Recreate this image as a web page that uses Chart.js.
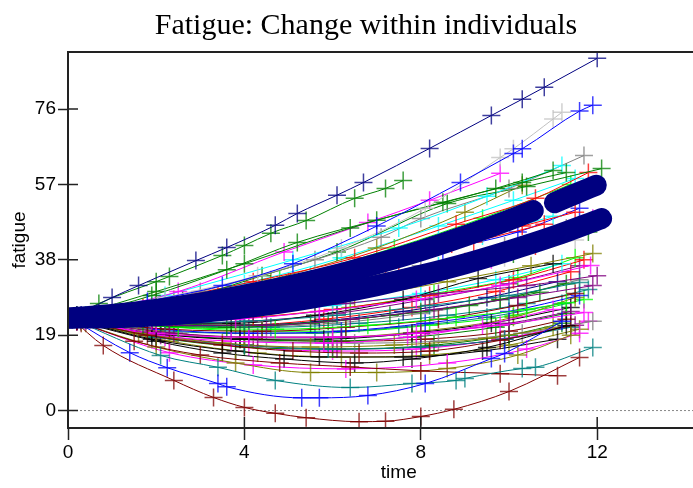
<!DOCTYPE html>
<html lang="en">
<head>
  <meta charset="UTF-8" />
  <title>Fatigue: Change within individuals</title>
  <style>
    html, body { margin: 0; padding: 0; background: #fff; overflow: hidden; }
    canvas { display: block; }
  </style>
</head>
<body>
  <canvas id="fatigueChart" width="740" height="488"></canvas>

  <script src="https://cdn.jsdelivr.net/npm/chart.js"></script>
  <script>
    // axis ticks
    const xTicks = [0, 4, 8, 12];
    const yTicks = [0, 19, 38, 57, 76];

    // one row per individual: observation times and fatigue scores
    const subjTime = [
      [0.2, 1.0, 1.6, 2.9, 3.6, 4.7, 5.2, 6.1, 6.7, 8.2, 9.6, 10.3, 10.8, 12.0],
      [0.2, 0.7, 2.0, 2.3, 3.5, 4.0, 4.6, 5.4, 6.5, 7.2, 7.6],
      [0.3, 1.8, 3.5, 5.1, 7.0, 8.9, 10.1, 10.3, 11.6, 11.9],
      [0.3, 2.2, 4.3, 6.2, 8.1, 9.8, 10.1, 11.0, 11.2],
      [0.1, 0.8, 2.4, 3.3, 4.0, 4.7, 5.4, 6.6, 7.2, 8.0, 8.75, 10.0, 11.6],
      [0.1, 1.4, 2.25, 3.4, 3.6, 5.3, 5.7, 6.8, 8.1, 9.6, 9.9, 11.2],
      [0.1, 2.1, 3.4, 4.7, 6.4, 7.8, 8.8, 9.0, 10.3, 10.6, 11.9],
      [0.2, 1.5, 3.0, 4.8, 6.4, 8.0, 9.8, 11.1],
      [0.3, 2.0, 3.8, 5.5, 7.0, 8.6, 10.2, 11.4],
      [0.3, 2.3, 4.2, 6.3, 8.6, 10.4, 11.6],
      [0.2, 2.0, 3.5, 4.9, 6.5, 7.8, 9.5, 11.3],
      [0.3, 1.8, 3.5, 5.1, 6.6, 8.2, 9.8, 11.4],
      [0.2, 2.0, 4.0, 6.4, 8.5, 10.3, 11.3],
      [0.3, 1.9, 3.6, 5.2, 7.0, 9.7, 11.0],
      [0.2, 2.5, 4.9, 6.8, 8.2, 9.8],
      [0.4, 2.2, 5.1, 7.5, 9.5, 11.2],
      [0.3, 3.0, 5.6, 7.1, 8.0, 10.0, 11.7],
      [0.5, 2.6, 4.4, 6.1, 8.6, 10.4, 12.1],
      [0.3, 2.0, 4.2, 6.5, 8.8, 10.6, 11.8],
      [0.4, 2.4, 4.6, 7.0, 9.0, 10.3],
      [0.2, 1.8, 4.0, 6.2, 8.4, 10.1, 11.5],
      [0.3, 2.2, 4.8, 7.4, 9.4, 11.4],
      [0.3, 1.7, 3.4, 5.0, 6.9, 8.7, 10.3, 11.5],
      [0.2, 2.1, 4.0, 5.8, 7.5, 9.2, 10.8],
      [0.4, 1.9, 3.7, 5.5, 7.6, 9.4, 11.0],
      [0.3, 2.6, 4.5, 6.6, 8.5, 10.2, 11.6],
      [0.2, 2.3, 4.1, 6.0, 8.0, 9.9, 11.3],
      [0.5, 2.2, 4.3, 6.2, 8.3, 10.1, 11.8],
      [0.3, 1.8, 3.9, 5.9, 7.7, 9.6, 11.9],
      [0.2, 2.0, 4.2, 6.3, 8.4, 10.4, 12.0],
      [0.4, 2.4, 4.4, 6.5, 8.6, 10.5, 11.9],
      [0.2, 1.9, 3.8, 5.7, 7.9, 9.8, 11.85],
      [0.3, 2.2, 4.0, 6.1, 8.2, 10.0, 11.6],
      [0.4, 2.3, 4.5, 6.4, 8.3, 10.2, 11.9],
      [0.2, 1.7, 3.6, 5.5, 7.3, 9.1, 10.7],
      [0.3, 2.5, 4.7, 6.8, 8.8, 10.4, 11.3],
      [0.2, 2.0, 4.1, 6.0, 7.9, 9.8, 11.7],
      [0.3, 1.9, 3.7, 5.6, 7.6, 9.3, 11.0],
      [0.2, 2.4, 4.3, 6.2, 8.0, 10.0, 11.4],
      [0.3, 1.6, 3.5, 5.5, 7.4, 9.5, 11.0],
      [0.4, 2.2, 4.0, 6.0, 8.0, 9.7, 11.2],
      [0.3, 2.0, 3.9, 6.1, 8.1, 9.9, 11.5],
      [0.2, 2.2, 4.2, 6.0, 8.2, 10.1, 11.7],
      [0.3, 2.3, 4.4, 6.3, 8.4, 10.2, 11.5],
      [0.5, 2.1, 4.0, 5.9, 8.0, 9.8, 11.3],
      [0.3, 1.8, 3.9, 5.7, 7.6, 9.5, 11.1],
      [0.2, 2.4, 4.6, 6.6, 8.6, 10.4, 11.8],
      [0.4, 2.0, 3.7, 5.8, 7.7, 9.4, 11.0],
      [0.2, 1.9, 3.9, 5.8, 7.8, 9.6, 11.4],
      [0.3, 2.1, 4.1, 6.2, 8.1, 10.0, 11.6],
      [0.2, 2.0, 4.0, 6.0, 8.0, 10.1, 11.5],
      [0.4, 2.3, 4.2, 6.4, 8.3, 10.2, 11.5],
      [0.3, 1.8, 3.6, 5.4, 7.2, 9.0, 10.6],
      [0.2, 2.1, 4.3, 6.3, 8.4, 10.5, 11.8],
      [0.3, 2.2, 4.1, 6.1, 8.1, 10.0, 11.6],
      [0.4, 2.0, 4.0, 5.9, 8.0, 9.9, 11.4],
      [0.3, 2.5, 4.5, 6.5, 8.4, 10.3, 11.9],
      [0.3, 2.0, 4.0, 6.0, 8.3, 10.0, 11.2],
      [0.3, 1.9, 3.8, 5.7, 7.6, 9.4, 11.1],
      [0.2, 2.1, 4.0, 6.1, 8.0, 9.9, 11.5],
      [0.4, 2.3, 4.3, 6.2, 8.2, 10.0, 11.6],
      [0.3, 2.0, 3.9, 5.9, 7.8, 9.7, 11.3],
      [0.2, 2.2, 4.1, 6.0, 7.9, 9.8, 11.8],
      [0.3, 1.8, 3.7, 5.6, 7.5, 9.5, 11.2],
      [0.4, 2.4, 4.4, 6.3, 8.2, 10.1, 11.7],
      [0.2, 2.0, 4.2, 6.2, 8.1, 10.0, 11.3],
      [0.3, 2.1, 4.0, 6.0, 8.0, 9.8, 11.6],
      [0.2, 1.9, 3.8, 5.8, 7.8, 9.7, 11.4]
    ];

    const subjFatigue = [
      [24, 28.5, 31.5, 37.8, 41.1, 46.7, 49.7, 54.3, 57.5, 66.1, 74.4, 78.5, 81.5, 88.8],
      [24, 27, 32.5, 33.8, 39.1, 41.6, 44.7, 47.9, 53.5, 56, 58],
      [24, 27.5, 31.5, 37, 46.5, 57.5, 64.8, 66, 75.5, 77],
      [24, 28.5, 34, 41, 51, 63.8, 66, 73.5, 75.2],
      [23, 16.4, 7.6, 3.3, 0.8, -0.7, -1.8, -2.8, -2.7, -1.5, 0.3, 4.8, 13.4],
      [23, 14.6, 10.8, 6.8, 6.0, 3.2, 3.2, 3.8, 6.8, 13.1, 14.4, 22.5],
      [23, 13.9, 10.9, 7.6, 5.8, 6.8, 7.6, 8.1, 10.6, 10.9, 15.9],
      [22.5, 17.5, 14, 12, 11, 10, 9.3, 8.8],
      [22, 16, 12, 9.6, 9.6, 10.6, 14, 19],
      [22, 14.6, 11.5, 10.5, 12, 15.5, 19.5],
      [22.5, 17.5, 14.5, 13, 12, 13, 15.9, 21.4],
      [22.5, 19, 16.5, 15, 14.5, 15, 17.7, 21.4],
      [24, 30, 37, 46, 52.5, 57.5, 60],
      [24, 29, 35.5, 42.4, 48, 56, 60.5],
      [24, 30, 40, 47.4, 53, 59.8],
      [24, 29, 38, 46, 54, 61.8],
      [23.5, 30, 38, 43.7, 48.4, 56, 64.3],
      [24, 28, 34, 40, 52.2, 56.5, 61],
      [23.5, 27.5, 32.5, 38.5, 47, 53.5, 60],
      [24, 28, 33, 41, 50, 56.8],
      [23.5, 27, 32, 38.5, 46.5, 53, 58.5],
      [23.5, 27, 33, 41, 48.5, 57],
      [24, 26, 29, 32.5, 37, 42, 46.5, 50],
      [23.5, 26, 29.5, 33.5, 37.5, 42.5, 47],
      [24, 26.5, 30, 34, 39, 44, 49],
      [23.5, 27, 30.5, 35.5, 40.5, 45, 51],
      [23.5, 25.5, 28.5, 32, 36.5, 41.5, 46],
      [23.5, 25, 27.5, 30.5, 35, 39.5, 45],
      [23.5, 24.5, 26.5, 29.5, 33, 38, 48.5],
      [23, 23.5, 25, 27, 29.5, 31.5, 34],
      [23, 23.5, 25.5, 28.5, 32.5, 36.5, 39.6],
      [23, 22.5, 23, 25, 28, 31.5, 36.6],
      [23, 22, 22.5, 24, 26.5, 29, 32.3],
      [23, 21.5, 21.5, 23, 25.5, 28.5, 31.5],
      [23, 21.5, 21, 22, 24, 26.5, 29.8],
      [23, 21, 20.5, 21.5, 23.5, 25.5, 27.2],
      [22.5, 19.5, 18.5, 18.5, 19.5, 21.5, 24.7],
      [23, 22, 22, 24, 28, 33.3, 37],
      [22.5, 19.5, 18.5, 18.5, 19.5, 22, 25],
      [22.5, 19.5, 17, 16, 16.5, 18.2, 21],
      [23, 23.5, 24.5, 26.5, 29.5, 33, 37],
      [23.5, 24.5, 26.5, 29.5, 34, 38.5, 43],
      [23, 22.5, 23.5, 25.5, 29, 33, 38],
      [22.5, 20.5, 20, 21, 23, 26.5, 29.5],
      [23, 22, 21.5, 22.5, 25, 28, 32],
      [23, 21.5, 21.5, 22.5, 25, 28.5, 32.5],
      [23, 21.5, 21, 22, 24, 27, 30.5],
      [22.5, 19, 17.5, 17, 18.5, 21.5, 25.5],
      [22.5, 19.5, 18, 18, 19.5, 22, 26],
      [23, 20.5, 19.5, 20, 22, 25, 29],
      [23, 20, 18.5, 18.5, 20, 23.5, 28.5],
      [23.5, 23, 23.5, 26, 29.5, 33.5, 38.5],
      [23, 24.5, 27, 30, 33.5, 37.5, 41.5],
      [23.5, 25.5, 28.5, 32, 36.5, 42, 46.5],
      [23, 22, 22.5, 24.5, 28, 32, 36.5],
      [22.5, 18.5, 16.5, 15.5, 16, 18, 21],
      [23, 19.5, 17.5, 17, 17.5, 19.5, 22.5],
      [22.5, 18.5, 16, 15.5, 16.5, 19, 22],
      [22.5, 18, 15, 13.5, 13.5, 15, 18],
      [22.5, 19, 16.5, 15.5, 16, 18, 21.5],
      [22, 17.5, 14.5, 13.5, 14, 16.5, 20.5],
      [22.5, 19.5, 18, 17.5, 18.5, 21, 24.5],
      [22.5, 18.5, 16, 15, 15.5, 18, 22.5],
      [23, 20.5, 19.5, 19.5, 21, 23.5, 27],
      [23, 21, 20, 20, 21.5, 24, 28],
      [22.5, 19.5, 18, 17.5, 18, 20, 23],
      [23, 21.5, 21, 22, 24.5, 28, 33],
      [23, 21.5, 21.5, 23, 26, 30, 35]
    ];

    const subjColour = [
      '#000080', '#008000', '#0000ff', '#c0c0c0', '#800000', '#0000ff', '#008080', '#800000',
      '#808000', '#ff00ff', '#000000', '#800000',
      '#008000', '#008000', '#ff00ff', '#00ffff', '#808080', '#008000', '#ff0000', '#808000',
      '#00ffff', '#00ff00',
      '#ff0000', '#ff0000', '#00ffff', '#0000ff', '#808080', '#008000', '#ff00ff', '#800080',
      '#808000', '#ff00ff', '#008080', '#800080', '#008000', '#00ff00', '#ff00ff', '#000000',
      '#800080', '#808000', '#00ffff', '#c0c0c0', '#ff0000', '#800000', '#008000', '#000080',
      '#008080', '#ff00ff', '#000000', '#0000ff', '#808000', '#00ff00', '#ff0000', '#00ffff',
      '#800080', '#008080', '#808080', '#008000',
      '#000000', '#800080', '#808000', '#008000', '#ff00ff', '#008080', '#00ff00', '#800000',
      '#808080', '#ff0000'
    ];

    // group mean curves (the two heavy navy lines)
    const meanTimeA = [0, 1, 2, 3, 4, 5, 6, 7, 8, 9, 10, 10.55];
    const meanFatigueA = [23.3, 24.2, 25.5, 27.1, 29.1, 31.4, 34.0, 37.0, 40.3, 44.0, 48.0, 50.4];
    const meanTimeA2 = [11.03, 11.5, 11.98];
    const meanFatigueA2 = [52.4, 54.6, 56.8];
    const meanTimeB = [0, 1, 2, 3, 4, 5, 6, 7, 8, 9, 10, 11, 12.1];
    const meanFatigueB = [23.3, 23.4, 23.9, 24.7, 25.9, 27.4, 29.3, 31.5, 34.1, 37.0, 40.3, 43.9, 48.4];

    const toPoints = (ts, ys) => ts.map((t, i) => ({ x: t, y: ys[i] }));

    const meanStyle = {
      showLine: true,
      borderColor: '#000080',
      borderWidth: 21,
      borderCapStyle: 'round',
      borderJoinStyle: 'round',
      pointRadius: 0,
      cubicInterpolationMode: 'monotone',
      clip: 0,
      order: -1
    };

    const datasets = [
      { ...meanStyle, data: toPoints(meanTimeA, meanFatigueA) },
      { ...meanStyle, data: toPoints(meanTimeA2, meanFatigueA2) },
      { ...meanStyle, data: toPoints(meanTimeB, meanFatigueB) }
    ];

    subjTime.forEach((ts, i) => {
      const col = subjColour[i];
      datasets.push({
        data: toPoints(ts, subjFatigue[i]),
        showLine: true,
        borderColor: col,
        borderWidth: 1,
        cubicInterpolationMode: 'monotone',
        pointStyle: 'cross',
        pointRadius: 9,
        pointBorderWidth: 1.5,
        pointBorderColor: col + 'c0',
        pointBackgroundColor: col,
        clip: 0
      });
    });

    // frame, inner tick halves and dashed zero line
    const framePlugin = {
      id: 'frame',
      beforeDatasetsDraw(chart) {
        const { ctx, chartArea: a, scales: { y } } = chart;
        const y0 = y.getPixelForValue(0);
        ctx.save();
        ctx.strokeStyle = '#888';
        ctx.lineWidth = 1;
        ctx.setLineDash([2, 2]);
        ctx.beginPath();
        ctx.moveTo(a.left, y0);
        ctx.lineTo(a.right, y0);
        ctx.stroke();
        ctx.restore();
      },
      afterDatasetsDraw(chart) {
        const { ctx, chartArea: a, scales: { x, y } } = chart;
        ctx.save();
        ctx.strokeStyle = '#222';
        ctx.lineWidth = 2;
        ctx.strokeRect(a.left, a.top, a.right - a.left, a.bottom - a.top);
        ctx.lineWidth = 1.5;
        ctx.beginPath();
        xTicks.forEach(v => {
          const px = x.getPixelForValue(v);
          ctx.moveTo(px, a.bottom);
          ctx.lineTo(px, a.bottom - 11);
        });
        yTicks.forEach(v => {
          const py = y.getPixelForValue(v);
          ctx.moveTo(a.left, py);
          ctx.lineTo(a.left + 10, py);
        });
        ctx.stroke();
        ctx.restore();
      }
    };

    Chart.defaults.font.family = '"Liberation Sans", Arial, sans-serif';
    Chart.defaults.font.size = 19;
    Chart.defaults.color = '#000';

    new Chart(document.getElementById('fatigueChart'), {
      type: 'scatter',
      data: { datasets },
      options: {
        responsive: false,
        animation: false,
        layout: { padding: { right: 8 } },
        plugins: {
          legend: { display: false },
          tooltip: { enabled: false },
          title: {
            display: true,
            text: 'Fatigue: Change within individuals',
            color: '#000',
            font: { family: '"Liberation Serif", "Times New Roman", serif', size: 30, weight: 'normal' },
            padding: { top: 8, bottom: 8 }
          }
        },
        scales: {
          x: {
            type: 'linear',
            min: 0,
            max: 15,
            afterBuildTicks: s => { s.ticks = xTicks.map(v => ({ value: v })); },
            afterFit: s => { s.height = 60; },
            grid: { drawOnChartArea: false, drawTicks: true, tickLength: 12, tickColor: '#222', tickWidth: 1.5 },
            border: { display: true, color: '#222', width: 2 },
            ticks: { padding: 1, maxRotation: 0 },
            title: { display: true, text: 'time', padding: { top: 0, bottom: 4 } }
          },
          y: {
            type: 'linear',
            min: -4.4,
            max: 90.4,
            afterBuildTicks: s => { s.ticks = yTicks.map(v => ({ value: v })); },
            afterFit: s => { s.width = 68; },
            grid: { drawOnChartArea: false, drawTicks: true, tickLength: 10, tickColor: '#222', tickWidth: 1.5 },
            border: { display: true, color: '#222', width: 2 },
            ticks: { padding: 2 },
            title: { display: true, text: 'fatigue', padding: { top: 8, bottom: 0 } }
          }
        }
      },
      plugins: [framePlugin]
    });
  </script>
</body>
</html>
